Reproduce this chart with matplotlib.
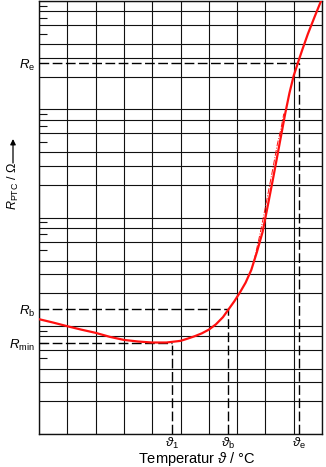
import numpy as np
import matplotlib.pyplot as plt
from matplotlib.ticker import NullFormatter

# PTC characteristic (temperature in °C, R in Ohm)
temp = [0, 10, 20, 30, 40, 50, 60, 70, 80, 90, 100, 105, 110, 115, 120, 125,
        130, 134, 138, 142, 146, 150, 154, 158, 162, 166, 168, 170, 172, 174,
        177, 180, 183, 186, 190, 195, 199.3]
r_ptc = [11.5, 10.7, 9.9, 9.2, 8.6, 7.9, 7.4, 7.15, 7.0, 7.0, 7.25, 7.6, 8.0, 8.5,
         9.2, 10.3, 12.0, 14.2, 16.8, 20.3, 25, 32.7, 48, 73.5, 135, 251, 347,
         479, 661, 912, 1413, 2042, 2692, 3524, 4955, 7265, 10000]

# thin second trace in the steep part
temp_2 = [152, 156.5, 160.5, 164.5, 168.5, 171, 173]
r_ptc_2 = [40, 73.5, 135, 251, 479, 661, 912]

theta_vals = [94, 133.5, 183.5]
theta_names = [r'$\vartheta_1$', r'$\vartheta_\mathrm{b}$', r'$\vartheta_\mathrm{e}$']
r_vals = [6.9, 14.2, 2675]
r_names = [r'$R_\mathrm{min}$', r'$R_\mathrm{b}$', r'$R_\mathrm{e}$']

grid_x = np.arange(0, 201, 20)
grid_y = [m * 10**k for k in range(4) for m in (1, 2, 3, 4, 6, 8)] + [1e4]
short_y = [m * 10**k for k in range(4) for m in (5, 7, 9)]

plt.rcParams['font.family'] = ['Liberation Sans', 'DejaVu Sans']
plt.rcParams['mathtext.fontset'] = 'custom'
plt.rcParams['mathtext.rm'] = 'Liberation Sans'
plt.rcParams['mathtext.it'] = 'Liberation Sans:italic'

fig = plt.figure(figsize=(3.26, 4.67), dpi=100)
ax = fig.add_axes([39/326, 33/467, 283/326, 433/467])
ax.set_yscale('log')
ax.set_xlim(0, 200)
ax.set_ylim(1, 1e4)

# grid
ax.set_yticks(grid_y, minor=True)
ax.yaxis.set_minor_formatter(NullFormatter())
ax.set_xticks(grid_x, minor=True)
ax.grid(which='minor', color='#111111', lw=0.8)
ax.hlines(short_y, 0, 8/283, transform=ax.get_yaxis_transform(),
          color='#111111', lw=0.8)

# labelled ticks
ax.set_yticks(r_vals, r_names, fontsize=9.5)
ax.set_xticks(theta_vals, theta_names, fontsize=9.5)
ax.tick_params(which='both', length=0)
ax.tick_params(axis='y', which='major', pad=3)
ax.tick_params(axis='x', which='major', pad=1.5)
for s in ax.spines.values():
    s.set_linewidth(1.0)
    s.set_color('#111111')

# dashed guide lines
for t, r in zip(theta_vals, r_vals):
    ax.plot([0, t], [r, r], color='k', lw=1.0, dashes=(7, 2.5), zorder=3)
    ax.plot([t, t], [1, r], color='k', lw=1.0, dashes=(7, 2.5), zorder=3)

ax.plot(temp, r_ptc, color='#ff1010', lw=1.6, zorder=4,
        solid_joinstyle='round', solid_capstyle='round')
ax.plot(temp_2, r_ptc_2, color='#ff1010', lw=0.7, dashes=(6, 1.5, 1, 1.5), zorder=4)

fig.text(197/326, 1 - 459/467, r'Temperatur $\vartheta$ / °C', fontsize=10.5,
         ha='center', va='center')
fig.text(13/326, 1 - 186/467, r'$R_\mathrm{PTC}$ / Ω', fontsize=9,
         rotation=90, ha='center', va='center')
ax.annotate('', xy=(13/326, 1 - 139/467), xytext=(13/326, 1 - 163/467),
            xycoords='figure fraction',
            arrowprops=dict(arrowstyle='-|>', color='k', lw=0.9,
                            mutation_scale=8, shrinkA=0, shrinkB=0))

fig.savefig('out.png', dpi=100)
